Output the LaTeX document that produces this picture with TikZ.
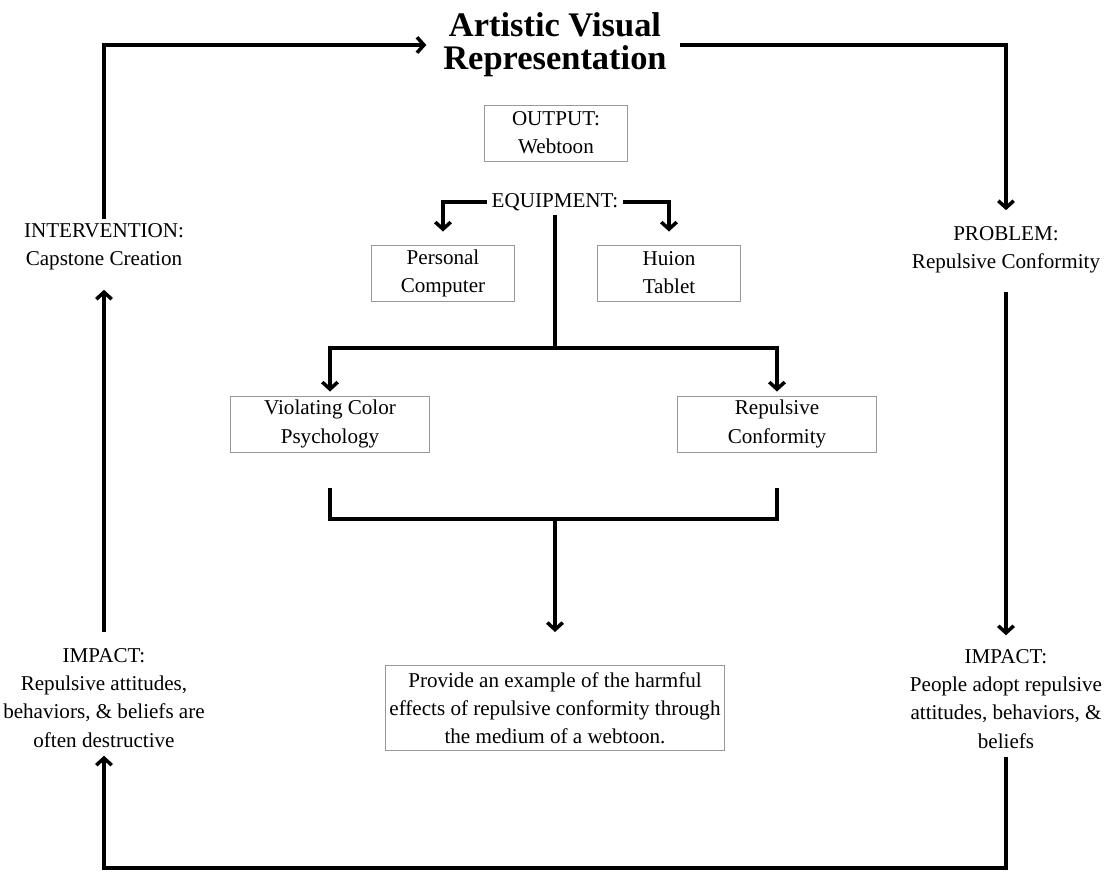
\documentclass[tikz,border=0pt]{standalone}
\usepackage{fontspec}
\setmainfont{Liberation Serif}
\usetikzlibrary{arrows.meta, positioning}
\tikzset{
  txt/.style={align=center, font=\fontsize{15}{20}\selectfont, inner sep=3pt},
  box/.style={txt, rectangle, draw=gray!80, line width=0.7pt},
  smallbox/.style={box, minimum width=3.55cm, minimum height=1.4cm},
  widebox/.style={box, minimum width=4.975cm, minimum height=1.4cm},
  ttl/.style={align=center, font=\fontsize{24.5}{23.5}\selectfont\bfseries},
  line/.style={line width=2.5pt},
  arr/.style={line, -{Straight Barb[length=5pt, width=11pt]}},
}

\begin{document}
\begin{tikzpicture}[x=0.025cm, y=-0.025cm]
  \useasboundingbox (0,0) rectangle (1107,871);
  % centre column
  \node[ttl] (title) at (555,45) {Artistic Visual\\Representation};
  \node[smallbox] (output) at (556,133) {OUTPUT:\\Webtoon};
  \node[txt] (equip) at (555,202) {EQUIPMENT:};
  \node[smallbox] (pc) at (443,273) {Personal\\Computer};
  \node[smallbox] (tablet) at (669,273) {Huion\\Tablet};
  \node[widebox] (colour) at (330,424) {Violating Color\\Psychology};
  \node[widebox] (conform) at (777,424) {Repulsive\\Conformity};
  \node[box, minimum width=8.425cm, minimum height=2.125cm] (goal) at (555,708)
    {Provide an example of the harmful\\effects of repulsive conformity through\\the medium of a webtoon.};
  % cycle round the outside
  \node[txt] (interv) at (104,247) {INTERVENTION:\\Capstone Creation};
  \node[txt] (problem) at (1006,250) {PROBLEM:\\Repulsive Conformity};
  \node[txt] (effect) at (1006,699) {IMPACT:\\People adopt repulsive\\attitudes, behaviors, \&\\beliefs};
  \node[txt] (harm) at (104,698) {IMPACT:\\Repulsive attitudes,\\behaviors, \& beliefs are\\often destructive};

  \coordinate (split) at (555,348);
  \coordinate (merge) at (555,519);
  \coordinate (base) at (555,868);

  \draw[arr, shorten >=0.325cm] (equip.west) -| (pc.north);
  \draw[arr, shorten >=0.325cm] (equip.east) -| (tablet.north);
  \draw[line] (equip.south) -- (split);
  \draw[arr, shorten >=0.1cm] (split) -| (colour.north);
  \draw[arr, shorten >=0.1cm] (split) -| (conform.north);
  \draw[line] ([yshift=-0.875cm]colour.south) |- (merge) -| ([yshift=-0.875cm]conform.south);
  \draw[arr, shorten >=0.825cm] (merge) -- (goal.north);

  \draw[arr, shorten >=0.3cm] (interv.north) |- (title.west);
  \draw[arr, shorten <=0.2cm, shorten >=0.3cm] (title.east) -| (problem.north);
  \draw[arr, shorten <=0.35cm, shorten >=0.25cm] (problem.south) -- (effect.north);
  \draw[arr, shorten <=0.1cm, shorten >=0.1cm] (effect.south) |- (base) -| (harm.south);
  \draw[arr, shorten <=0.3cm, shorten >=0.375cm] (harm.north) -- (interv.south);
\end{tikzpicture}
\end{document}
